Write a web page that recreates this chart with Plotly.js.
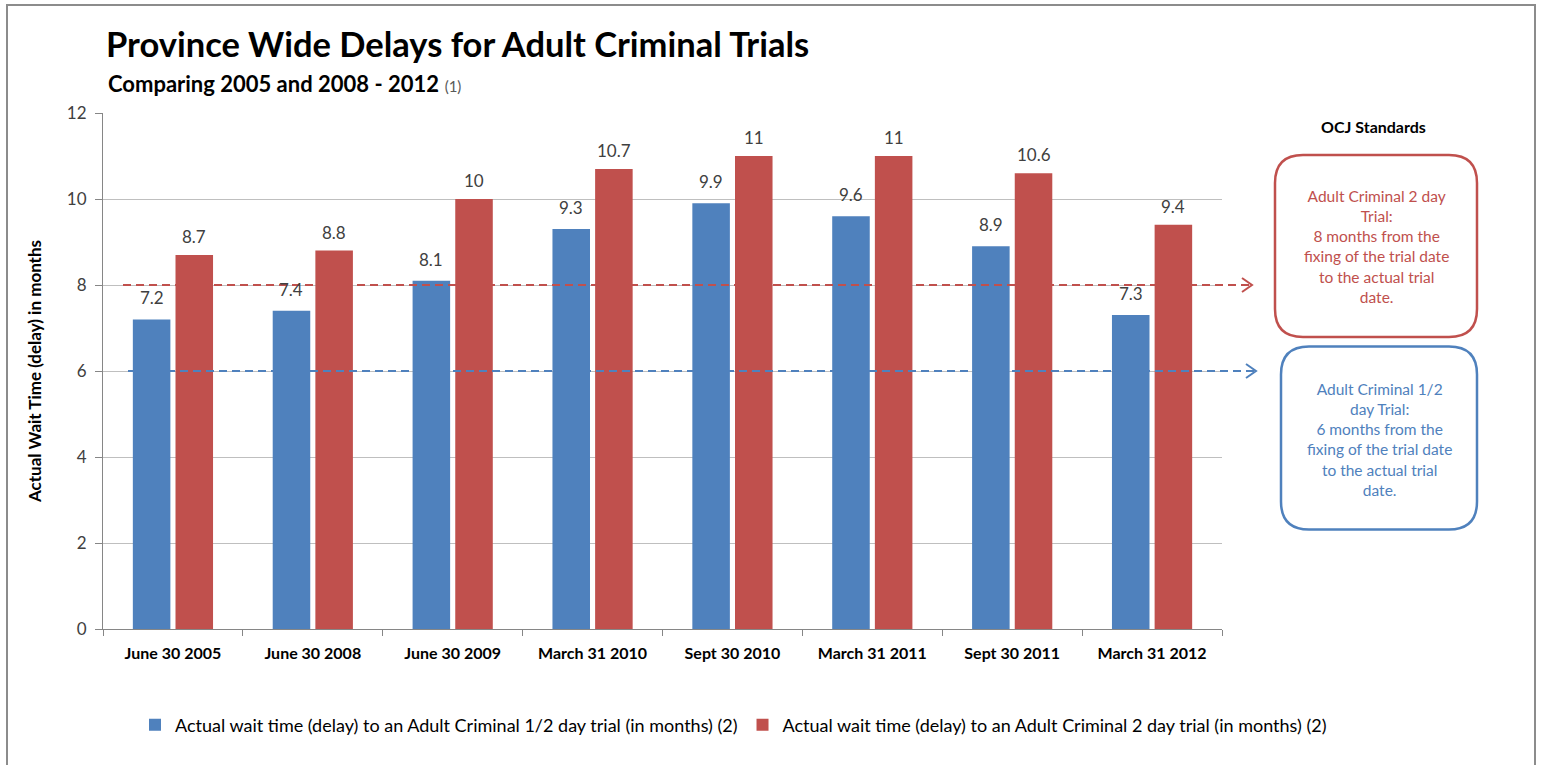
<!DOCTYPE html>
<html>
<head>
<meta charset="utf-8">
<script src="https://cdn.plot.ly/plotly-3.0.1.min.js"></script>
<style>html,body{margin:0;padding:0;background:#fff;}#chart{width:1541px;height:765px;}</style>
</head>
<body>
<div id="chart"></div>
<script>
const categories = ["June 30 2005", "June 30 2008", "June 30 2009", "March 31 2010", "Sept 30 2010", "March 31 2011", "Sept 30 2011", "March 31 2012"];
const halfDayValues = [7.2, 7.4, 8.1, 9.3, 9.9, 9.6, 8.9, 7.3];
const twoDayValues = [8.7, 8.8, 10, 10.7, 11, 11, 10.6, 9.4];
const seriesNames = [
  "Actual wait time (delay) to an Adult Criminal 1/2 day trial (in months) (2)",
  "Actual wait time (delay) to an Adult Criminal 2 day trial (in months) (2)"
];
const standardTwoDay = 8;
const standardHalfDay = 6;
const yTicks = [0, 2, 4, 6, 8, 10, 12];

const BLUE = "#4f81bd", RED = "#c0504d";
const FONT = "Lato, 'Open Sans', sans-serif";

const traces = [
  {type: "bar", name: seriesNames[0], x: categories, y: halfDayValues,
   marker: {color: BLUE}, hoverinfo: "x+y"},
  {type: "bar", name: seriesNames[1], x: categories, y: twoDayValues,
   marker: {color: RED}, hoverinfo: "x+y"}
];

function roundRect(w, h, r) {
  const x0 = -w/2, x1 = w/2, y0 = -h/2, y1 = h/2;
  return `M${x0+r},${y0} L${x1-r},${y0} Q${x1},${y0} ${x1},${y0+r} L${x1},${y1-r} Q${x1},${y1} ${x1-r},${y1} L${x0+r},${y1} Q${x0},${y1} ${x0},${y1-r} L${x0},${y0+r} Q${x0},${y0} ${x0+r},${y0} Z`;
}

const L = 103, R = 1222, T = 113, B = 629;
const px = p => (p - L) / (R - L);
const py = p => (B - p) / (B - T);
const slotHalf = (R - L) / categories.length * (1 - 0.39) / 4;

const shapes = [
  {type: "rect", xref: "paper", yref: "paper", x0: px(7), x1: px(1535), y0: py(5), y1: py(775),
   line: {color: "#8c8c8c", width: 2}, fillcolor: "rgba(0,0,0,0)", layer: "below"},
  {type: "line", xref: "paper", yref: "y", x0: px(123), x1: px(1250), y0: standardTwoDay, y1: standardTwoDay,
   line: {color: RED, width: 2, dash: "8px,5px"}},
  {type: "line", xref: "paper", yref: "y", x0: px(128), x1: px(1254), y0: standardHalfDay, y1: standardHalfDay,
   line: {color: BLUE, width: 2, dash: "8px,5px"}},
  {type: "path", xref: "paper", yref: "y", xsizemode: "pixel", ysizemode: "pixel",
   xanchor: px(1252), yanchor: standardTwoDay, path: "M-10,-7 L0,0 L-10,7",
   line: {color: RED, width: 2}},
  {type: "path", xref: "paper", yref: "y", xsizemode: "pixel", ysizemode: "pixel",
   xanchor: px(1256), yanchor: standardHalfDay, path: "M-10,-7 L0,0 L-10,7",
   line: {color: BLUE, width: 2}},
  {type: "path", xref: "paper", yref: "paper", xsizemode: "pixel", ysizemode: "pixel",
   xanchor: px(1376), yanchor: py(246), path: roundRect(202, 182, 28),
   line: {color: RED, width: 2.5}, fillcolor: "rgba(0,0,0,0)"},
  {type: "path", xref: "paper", yref: "paper", xsizemode: "pixel", ysizemode: "pixel",
   xanchor: px(1379), yanchor: py(438), path: roundRect(196, 183, 28),
   line: {color: BLUE, width: 2.5}, fillcolor: "rgba(0,0,0,0)"}
];

const labelFont = {family: FONT, size: 17, color: "#404040"};
const valueLabels = [];
categories.forEach((c, i) => {
  valueLabels.push({xref: "x", yref: "y", x: c, y: halfDayValues[i], xshift: -slotHalf, yshift: 9,
    yanchor: "bottom", showarrow: false, text: String(halfDayValues[i]), font: labelFont});
  valueLabels.push({xref: "x", yref: "y", x: c, y: twoDayValues[i], xshift: slotHalf, yshift: 6,
    yanchor: "bottom", showarrow: false, text: String(twoDayValues[i]), font: labelFont});
});

const annotations = valueLabels.concat([
  {xref: "paper", yref: "paper", x: px(106), y: py(84), xanchor: "left", yanchor: "middle", showarrow: false,
   text: "<b>Comparing 2005 and 2008 - 2012</b> <span style='font-size:15px;color:#595959'>(1)</span>",
   font: {family: FONT, size: 22, color: "#000"}},
  {xref: "paper", yref: "paper", x: px(1373), y: py(126), xanchor: "center", yanchor: "middle", showarrow: false,
   text: "<b>OCJ Standards</b>", font: {family: FONT, size: 16, color: "#000"}},
  {xref: "paper", yref: "paper", x: px(1376), y: py(246), xanchor: "center", yanchor: "middle", showarrow: false,
   text: "Adult Criminal 2 day<br>Trial:<br>8 months from the<br>fixing of the trial date<br>to the actual trial<br>date.",
   font: {family: FONT, size: 15.5, color: RED}, align: "center"},
  {xref: "paper", yref: "paper", x: px(1379), y: py(439), xanchor: "center", yanchor: "middle", showarrow: false,
   text: "Adult Criminal 1/2<br>day Trial:<br>6 months from the<br>fixing of the trial date<br>to the actual trial<br>date.",
   font: {family: FONT, size: 15.5, color: BLUE}, align: "center"}
]);

const layout = {
  width: 1541, height: 765,
  margin: {l: L, r: 1541 - R, t: T, b: 765 - B, pad: 0, autoexpand: false},
  paper_bgcolor: "#ffffff", plot_bgcolor: "#ffffff",
  font: {family: FONT, color: "#000"},
  title: {text: "<b>Province Wide Delays for Adult Criminal Trials</b>", x: 106/1541, xanchor: "left",
          xref: "container", y: 1 - 45/765, yanchor: "middle", yref: "container",
          font: {family: FONT, size: 34.5, color: "#000"}},
  barmode: "group", bargap: 0.39, bargroupgap: 0.12,
  xaxis: {type: "category", showline: true, linecolor: "#868686", linewidth: 1,
          ticks: "outside", ticklen: 6, tickcolor: "#868686", tickson: "boundaries",
          ticklabelstandoff: 10,
          tickfont: {family: FONT, size: 16, color: "#000", weight: "bold"},
          showgrid: false, fixedrange: true},
  yaxis: {range: [0, 12], tickvals: yTicks, showline: true, linecolor: "#868686", linewidth: 1,
          ticks: "outside", ticklen: 7, tickcolor: "#868686", ticklabelstandoff: 5,
          gridcolor: "#bfbfbf", gridwidth: 1, zeroline: false,
          tickfont: {family: FONT, size: 17, color: "#404040"},
          title: {text: "<b>Actual Wait Time (delay) in months</b>", standoff: 20,
                  font: {family: FONT, size: 17, color: "#000"}},
          fixedrange: true},
  legend: {orientation: "h", xref: "paper", x: px(1332), xanchor: "right",
           yref: "paper", y: py(725), yanchor: "middle",
           font: {family: FONT, size: 18, color: "#000"}, itemwidth: 30, traceorder: "normal"},
  shapes: shapes,
  annotations: annotations,
  showlegend: true
};

Plotly.newPlot("chart", traces, layout, {displayModeBar: false, staticPlot: true});
</script>
</body>
</html>
